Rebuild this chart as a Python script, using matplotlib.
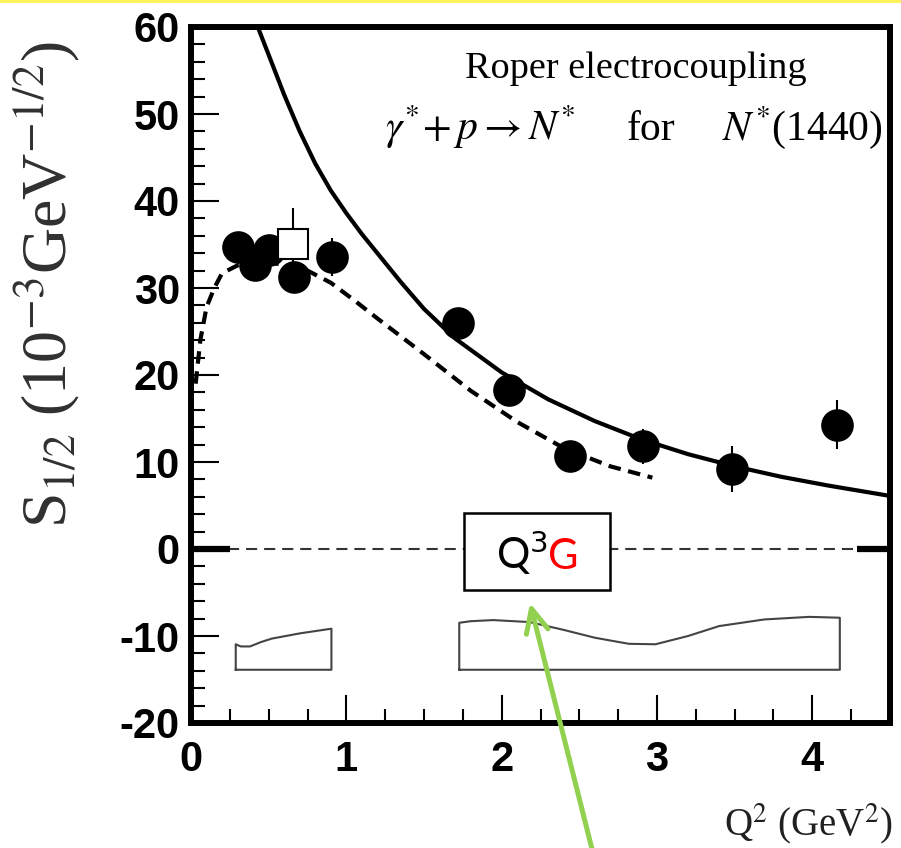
import matplotlib
matplotlib.use("Agg")
import matplotlib.pyplot as plt
import numpy as np
from matplotlib.patches import Rectangle
from matplotlib.offsetbox import TextArea, HPacker, AnnotationBbox
from matplotlib.ticker import MultipleLocator

plt.rcParams['mathtext.fontset'] = 'stix'
plt.rcParams['axes.unicode_minus'] = False
plt.rcParams['lines.scale_dashes'] = False

# ---------------- data ----------------
# CLAS data (filled circles)
data_q2 = [0.30, 0.41, 0.50, 0.66, 0.91, 1.72, 2.05, 2.44, 2.91, 3.48, 4.16]
data_s12 = [34.7, 32.6, 34.4, 31.3, 33.6, 26.0, 18.3, 10.7, 11.8, 9.2, 14.3]
data_err = [1.0, 1.0, 1.0, 1.0, 2.2, 1.5, 1.5, 1.5, 2.0, 2.6, 2.8]

# open square point
sq_q2 = [0.654]
sq_s12 = [35.0]
sq_err = [4.2]

# solid theory curve
solid_q2 = [0.43, 0.50, 0.60, 0.70, 0.80, 0.90, 1.00, 1.10, 1.20, 1.35, 1.50,
            1.70, 2.00, 2.30, 2.60, 2.90, 3.20, 3.50, 3.80, 4.10, 4.50]
solid_s12 = [60.0, 56.8, 52.2, 48.0, 44.3, 41.2, 38.6, 36.2, 34.0, 30.7, 27.6,
             24.2, 20.3, 17.2, 14.7, 12.6, 10.9, 9.5, 8.3, 7.3, 6.1]

# dashed theory curve
dash_q2 = [0.03, 0.06, 0.10, 0.15, 0.20, 0.30, 0.45, 0.60, 0.75, 0.90, 1.05,
           1.20, 1.50, 1.80, 2.10, 2.40, 2.70, 2.97]
dash_s12 = [19.0, 24.0, 27.8, 30.0, 31.7, 32.6, 33.0, 32.7, 32.0, 30.6, 28.6,
            26.5, 22.4, 18.2, 14.6, 11.6, 9.5, 8.2]

# systematic error bands (outline)
band1_q2 = [0.288, 0.32, 0.38, 0.45, 0.52, 0.70, 0.904]
band1_top = [-10.95, -11.2, -11.2, -10.7, -10.3, -9.7, -9.16]
band2_q2 = [1.727, 1.80, 1.945, 2.18, 2.40, 2.60, 2.82, 2.99, 3.20, 3.40,
            3.69, 3.98, 4.177]
band2_top = [-8.48, -8.3, -8.17, -8.4, -9.3, -10.2, -10.9, -10.95, -10.0,
             -8.86, -8.1, -7.8, -7.9]
band_bottom = -13.88

x_ticks = [0, 1, 2, 3, 4]
y_ticks = [-20, -10, 0, 10, 20, 30, 40, 50, 60]

# ---------------- figure ----------------
W, H = 901, 848
fig = plt.figure(figsize=(W / 100, H / 100), dpi=100)
fig.patch.set_facecolor('white')
fig.patches.append(Rectangle((0, 1 - 3 / H), 1, 3 / H, transform=fig.transFigure,
                             facecolor='#FFF35C', edgecolor='none'))

ax = fig.add_axes([191 / W, (H - 723) / H, (890 - 191) / W, (723 - 27) / H])
ax.set_xlim(0, 4.5)
ax.set_ylim(-20, 60)

for s in ax.spines.values():
    s.set_linewidth(4.3)
ax.set_xticks(x_ticks)
ax.set_yticks(y_ticks)
ax.xaxis.set_minor_locator(MultipleLocator(0.25))
ax.yaxis.set_minor_locator(MultipleLocator(2))
ax.tick_params(which='major', direction='in', length=20, width=1.5,
               top=False, right=False, labelsize=30)
ax.tick_params(which='minor', direction='in', length=10, width=1.5,
               top=False, right=False)
ax.tick_params(axis='y', which='major', pad=8)
ax.tick_params(axis='x', which='major', pad=12)
for lab in ax.get_xticklabels() + ax.get_yticklabels():
    lab.set_family('Liberation Sans')
    lab.set_fontweight('bold')

# zero line
ax.plot([0.24, 4.28], [0, 0], color='#333333', lw=1.5, ls=(0, (8, 5)), zorder=2)
ax.plot([0, 0.25], [0, 0], color='black', lw=4.5, solid_capstyle='butt', zorder=2)
ax.plot([4.29, 4.5], [0, 0], color='black', lw=4.5, solid_capstyle='butt', zorder=2)

# curves
ax.plot(solid_q2, solid_s12, color='black', lw=3, zorder=3)
ax.plot(dash_q2, dash_s12, color='black', lw=3, ls=(0, (9, 5.5)), zorder=3)

# bands
for bx, bt in [(band1_q2, band1_top), (band2_q2, band2_top)]:
    xs = [bx[0]] + list(bx) + [bx[-1], bx[0]]
    ys = [band_bottom] + list(bt) + [band_bottom, band_bottom]
    ax.plot(xs, ys, color='#444444', lw=1.5, zorder=3)

# data points
ax.errorbar(data_q2, data_s12, yerr=data_err, fmt='o', color='black', ms=23.5,
            mew=0, elinewidth=1.5, capsize=0, zorder=5)
ax.errorbar(sq_q2, sq_s12, yerr=sq_err, fmt='s', mfc='white', mec='black',
            color='black', ms=21.5, mew=1.5, elinewidth=1.5, capsize=0, zorder=6)

# Q3G box
ax.add_patch(Rectangle((1.758, -4.71), 2.699 - 1.758, 4.14 + 4.71, facecolor='white',
                       edgecolor='black', lw=1.8, zorder=4))
ta1 = TextArea("Q$^{3}$", textprops=dict(family='Lato', size=30, color='black',
                                         math_fontfamily='dejavusans'))
ta2 = TextArea("G", textprops=dict(family='Lato', size=30, color='#FF0000'))
pack = HPacker(children=[ta1, ta2], align='baseline', pad=0, sep=0)
ab = AnnotationBbox(pack, (2.2285, -0.4), xycoords='data', frameon=False,
                    zorder=7, box_alignment=(0.5, 0.5))
ax.add_artist(ab)

# texts
fig.text(465 / W, 1 - 78 / H, "Roper electrocoupling", family='Liberation Serif',
         size=27.5, va='baseline', ha='left')
fig.text(385 / W, 1 - 140 / H, r"$\gamma^{*}\!+p\rightarrow N^{*}$",
         family='Liberation Serif', size=30, va='baseline', ha='left')
fig.text(627 / W, 1 - 140 / H, "for",
         family='Liberation Serif', size=30, va='baseline', ha='left')
fig.text(883 / W, 1 - 140 / H, r"$N^{*}$(1440)",
         family='Liberation Serif', size=30, va='baseline', ha='right')

fig.text(47 / W, 1 - 285 / H, r"S$_{1/2}$ (10$^{-3}$GeV$^{-1/2}$)",
         family='Liberation Serif', size=46, rotation=90, ha='center', va='center',
         color='#303030')
fig.text(893 / W, 1 - 846 / H, r"Q$^{2}$ (GeV$^{2}$)", family='Liberation Serif',
         size=28, ha='right', va='bottom', color='#202020')

# green arrow
ax.annotate('', xy=(530, H - 603), xycoords='figure pixels',
            xytext=(593, -5), textcoords='figure pixels',
            arrowprops=dict(arrowstyle='->,head_length=1.7,head_width=0.8',
                            color='#92D050', lw=3.6, shrinkA=0, shrinkB=0,
                            mutation_scale=10),
            annotation_clip=False, zorder=10)

fig.savefig('out.png', dpi=100)
